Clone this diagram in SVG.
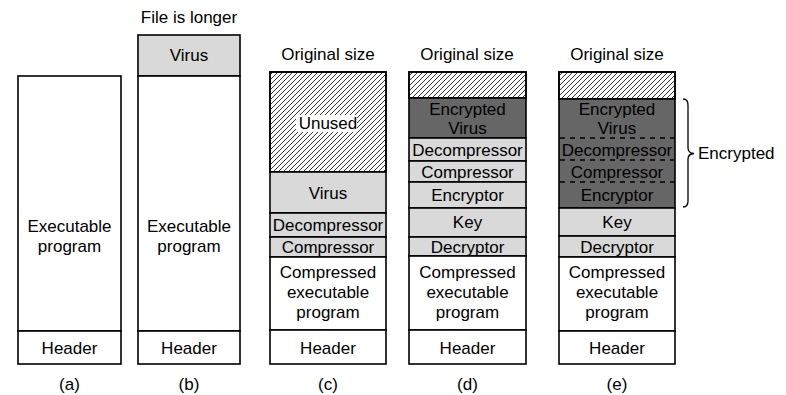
<svg xmlns="http://www.w3.org/2000/svg" width="786" height="395" viewBox="0 0 786 395">
<defs>
<pattern id="hatch" patternUnits="userSpaceOnUse" width="5" height="5">
<path d="M-1,1 L1,-1 M0,5 L5,0 M4,6 L6,4" stroke="#000" stroke-width="0.8"/>
</pattern>
</defs>
<style>
text{font-family:"Liberation Sans",Arial,sans-serif;font-size:17px;fill:#000;text-anchor:middle}
.box{stroke:#000;stroke-width:1.6}
.w{fill:#fff}
.g{fill:#d9d9d9}
.d{fill:#666}
.h{fill:url(#hatch)}
.dash{stroke:#000;stroke-width:1.3;stroke-dasharray:5,5;fill:none}
.brace{stroke:#000;stroke-width:1.3;fill:none}
</style>
<rect width="786" height="395" fill="#fff"/>

<g id="col-a">
<rect class="box w" x="18" y="76" width="103" height="255"/>
<text x="69.5" y="232">Executable</text>
<text x="69.5" y="252">program</text>
<rect class="box w" x="18" y="331" width="103" height="33"/>
<text x="69.5" y="353.5">Header</text>
<text x="69.5" y="390">(a)</text>
</g>

<g id="col-b">
<text x="189" y="23">File is longer</text>
<rect class="box g" x="138" y="35" width="102" height="41"/>
<text x="189" y="61">Virus</text>
<rect class="box w" x="138" y="76" width="102" height="255"/>
<text x="189" y="232">Executable</text>
<text x="189" y="252">program</text>
<rect class="box w" x="138" y="331" width="102" height="33"/>
<text x="189" y="353.5">Header</text>
<text x="189" y="390">(b)</text>
</g>

<g id="col-c">
<text x="328" y="60">Original size</text>
<rect class="box w" x="270" y="72" width="116" height="100"/>
<rect class="box h" x="270" y="72" width="116" height="100"/>
<rect x="296" y="115" width="61" height="17" fill="#fff"/>
<text x="328" y="129">Unused</text>
<rect class="box g" x="270" y="172" width="116" height="41"/>
<text x="328" y="198.5">Virus</text>
<rect class="box g" x="270" y="213" width="116" height="24"/>
<text x="328" y="231">Decompressor</text>
<rect class="box g" x="270" y="237" width="116" height="20"/>
<text x="328" y="253">Compressor</text>
<rect class="box w" x="270" y="257" width="116" height="73"/>
<text x="328" y="278">Compressed</text>
<text x="328" y="298">executable</text>
<text x="328" y="318">program</text>
<rect class="box w" x="270" y="330" width="116" height="34"/>
<text x="328" y="353.5">Header</text>
<text x="328" y="390">(c)</text>
</g>

<g id="col-d">
<text x="467" y="60">Original size</text>
<rect class="box w" x="409" y="72" width="117" height="26"/>
<rect class="box h" x="409" y="72" width="117" height="26"/>
<rect class="box d" x="409" y="98" width="117" height="40"/>
<text x="467.5" y="115">Encrypted</text>
<text x="467.5" y="133.5">Virus</text>
<rect class="box g" x="409" y="138" width="117" height="23"/>
<text x="467.5" y="155.5">Decompressor</text>
<rect class="box g" x="409" y="161" width="117" height="21"/>
<text x="467.5" y="177.5">Compressor</text>
<rect class="box g" x="409" y="182" width="117" height="26"/>
<text x="467.5" y="201">Encryptor</text>
<rect class="box g" x="409" y="208" width="117" height="29"/>
<text x="467.5" y="228">Key</text>
<rect class="box g" x="409" y="237" width="117" height="19"/>
<text x="467.5" y="252.5">Decryptor</text>
<rect class="box w" x="409" y="256" width="117" height="74"/>
<text x="467.5" y="278">Compressed</text>
<text x="467.5" y="298">executable</text>
<text x="467.5" y="318">program</text>
<rect class="box w" x="409" y="330" width="117" height="34"/>
<text x="467.5" y="353.5">Header</text>
<text x="467.5" y="390">(d)</text>
</g>

<g id="col-e">
<text x="617" y="60">Original size</text>
<rect class="box w" x="559" y="72" width="116" height="27"/>
<rect class="box h" x="559" y="72" width="116" height="27"/>
<rect class="box d" x="559" y="99" width="116" height="109"/>
<line class="dash" x1="560" y1="138" x2="674" y2="138"/>
<line class="dash" x1="560" y1="160" x2="674" y2="160"/>
<line class="dash" x1="560" y1="182" x2="674" y2="182"/>
<text x="617" y="115">Encrypted</text>
<text x="617" y="133.5">Virus</text>
<text x="617" y="155.5">Decompressor</text>
<text x="617" y="177.5">Compressor</text>
<text x="617" y="201">Encryptor</text>
<rect class="box g" x="559" y="208" width="116" height="28"/>
<text x="617" y="228">Key</text>
<rect class="box g" x="559" y="236" width="116" height="21"/>
<text x="617" y="252.5">Decryptor</text>
<rect class="box w" x="559" y="257" width="116" height="74"/>
<text x="617" y="278">Compressed</text>
<text x="617" y="298">executable</text>
<text x="617" y="318">program</text>
<rect class="box w" x="559" y="331" width="116" height="33"/>
<text x="617" y="353.5">Header</text>
<text x="617" y="390">(e)</text>
</g>

<g id="connectors">
<path class="brace" d="M683,99 Q688,99 688,105 L688,148 Q688,153 694,153.5 Q688,154 688,159 L688,201 Q688,207 683,207"/>
<text x="698" y="159" style="text-anchor:start">Encrypted</text>
</g>
</svg>
